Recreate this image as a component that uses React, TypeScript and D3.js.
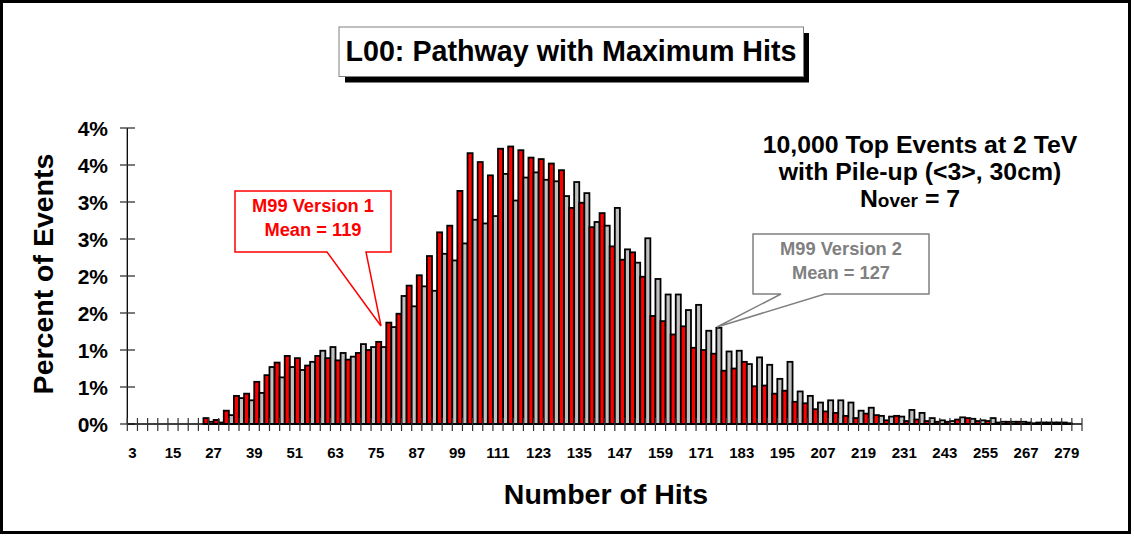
import React from 'react';
import * as d3 from 'd3';

// Number of hits (bin labels, step 3)
const hits = [
  3, 6, 9, 12, 15, 18, 21, 24, 27, 30, 33, 36, 39, 42, 45, 48, 51, 54, 57, 60,
  63, 66, 69, 72, 75, 78, 81, 84, 87, 90, 93, 96, 99, 102, 105, 108, 111, 114, 117, 120,
  123, 126, 129, 132, 135, 138, 141, 144, 147, 150, 153, 156, 159, 162, 165, 168, 171, 174, 177, 180,
  183, 186, 189, 192, 195, 198, 201, 204, 207, 210, 213, 216, 219, 222, 225, 228, 231, 234, 237, 240,
  243, 246, 249, 252, 255, 258, 261, 264, 267, 270, 273, 276, 279, 282,
];

// M99 Version 1 (red), percent of events
const version1 = [
  0, 0, 0, 0, 0, 0, 0, 0.08, 0.055, 0.18, 0.38, 0.41, 0.57, 0.66, 0.83, 0.92, 0.89, 0.79, 0.92, 0.89,
  0.86, 0.87, 0.96, 1.0, 1.11, 1.37, 1.49, 1.87, 2.01, 2.27, 2.59, 2.68, 3.15, 3.66, 3.54, 3.36, 3.72, 3.75, 3.7, 3.6,
  3.58, 3.52, 3.43, 2.92, 2.99, 2.66, 2.85, 2.4, 2.22, 2.32, 1.99, 1.46, 1.39, 1.21, 1.32, 1.03, 1.0, 0.95, 0.72, 0.75,
  0.84, 0.51, 0.52, 0.41, 0.45, 0.3, 0.28, 0.2, 0.17, 0.15, 0.11, 0.08, 0.14, 0.12, 0.05, 0.11, 0.04, 0.06, 0.04, 0.03,
  0.03, 0.06, 0.08, 0.04, 0.04, 0.02, 0.03, 0.03, 0.02, 0.02, 0.02, 0.02, 0.01, 0,
];

// M99 Version 2 (gray), percent of events
const version2 = [
  0, 0, 0, 0, 0, 0, 0, 0, 0.03, 0.02, 0.12, 0.35, 0.32, 0.42, 0.77, 0.63, 0.77, 0.73, 0.84, 0.99,
  1.04, 0.96, 0.91, 1.08, 1.04, 1.04, 1.31, 1.73, 1.59, 1.86, 1.8, 2.3, 2.21, 2.44, 2.76, 2.71, 2.81, 3.38, 3.02, 3.33,
  3.4, 3.3, 3.28, 3.08, 3.27, 3.12, 2.73, 2.68, 2.92, 2.36, 2.18, 2.51, 1.96, 1.75, 1.75, 1.54, 1.61, 1.26, 1.3, 0.98,
  0.99, 0.81, 0.9, 0.8, 0.61, 0.84, 0.44, 0.38, 0.29, 0.32, 0.32, 0.29, 0.18, 0.22, 0.11, 0.1, 0.1, 0.19, 0.15, 0.08,
  0.05, 0.04, 0.09, 0.07, 0.05, 0.08, 0.03, 0.03, 0.03, 0.01, 0.02, 0.02, 0.02, 0,
];

const xTickLabels = [3, 15, 27, 39, 51, 63, 75, 87, 99, 111, 123, 135, 147, 159, 171, 183, 195, 207, 219, 231, 243, 255, 267, 279];
const yTicks = [0, 0.5, 1, 1.5, 2, 2.5, 3, 3.5, 4];

const FONT = "'Liberation Sans', Arial, Helvetica, sans-serif";

export default function App() {
  const W = 1134;
  const H = 537;
  const left = 127.3;
  const right = 1082;
  const base = 424;
  const top = 128;

  const x = d3.scaleBand<number>().domain(hits).range([left, right]).padding(0);
  const inner = d3.scaleBand<string>().domain(['v2', 'v1']).range([0, x.bandwidth()]).padding(0);
  const y = d3.scaleLinear().domain([0, 4]).range([base, top]);

  const bars: React.ReactNode[] = [];
  hits.forEach((h, i) => {
    const x0 = x(h)!;
    const series: [string, number, string][] = [
      ['v2', version2[i], '#C0C0C0'],
      ['v1', version1[i], '#FF0000'],
    ];
    series.forEach(([key, v, fill]) => {
      if (v <= 0) return;
      const yy = y(v);
      bars.push(
        <rect
          key={`${key}-${h}`}
          x={x0 + inner(key)!}
          y={yy}
          width={inner.bandwidth()}
          height={base - yy}
          fill={fill}
          stroke="#000"
          strokeWidth={1.8}
        />
      );
    });
  });

  const boundaries = hits.map((h) => x(h)!).concat([right]);

  return (
    <svg
      width={W}
      height={H}
      viewBox={`0 0 ${W} ${H}`}
      style={{ position: 'absolute', left: 0, top: 0, display: 'block', background: '#fff' }}
      fontFamily={FONT}
    >
      <rect x={0} y={0} width={W} height={H} fill="#fff" />
      <rect x={1.5} y={1.5} width={1128} height={531} fill="none" stroke="#000" strokeWidth={3} />

      {/* Title box */}
      <rect x={345} y={33} width={464} height={49.5} fill="#000" />
      <rect x={339} y={27} width={464.5} height={49.5} fill="#fff" stroke="#808080" strokeWidth={1} />
      <text x={571} y={61} textAnchor="middle" fontSize={28.7} fontWeight="bold" fill="#000">
        L00: Pathway with Maximum Hits
      </text>

      {/* Bars */}
      <g>{bars}</g>

      {/* Y axis */}
      <line x1={left} x2={left} y1={top} y2={base} stroke="#000" strokeWidth={1.3} />
      {yTicks.map((t) => (
        <g key={`yt-${t}`}>
          <line x1={120} x2={135} y1={y(t)} y2={y(t)} stroke="#333" strokeWidth={1.3} />
          <text x={108} y={y(t)} dy="0.36em" textAnchor="end" fontSize={21} fontWeight="bold" fill="#000">
            {Math.round(t)}%
          </text>
        </g>
      ))}

      {/* X axis */}
      <line x1={left} x2={right} y1={base} y2={base} stroke="#000" strokeWidth={1.3} />
      {boundaries.map((bx, i) => (
        <line key={`xt-${i}`} x1={bx} x2={bx} y1={418} y2={431} stroke="#333" strokeWidth={1.2} />
      ))}
      {xTickLabels.map((l) => (
        <text key={`xl-${l}`} x={x(l)! + x.bandwidth() / 2} y={458} textAnchor="middle" fontSize={15} fontWeight="bold" fill="#000">
          {l}
        </text>
      ))}

      {/* Axis titles */}
      <text x={606} y={504} textAnchor="middle" fontSize={28.5} fontWeight="bold" fill="#000">
        Number of Hits
      </text>
      <text
        transform="translate(53,274) rotate(-90)"
        textAnchor="middle"
        fontSize={28.5}
        fontWeight="bold"
        fill="#000"
      >
        Percent of Events
      </text>

      {/* Annotation */}
      <g fontWeight="bold" fill="#000" textAnchor="middle">
        <text x={920} y={153} fontSize={24.8}>10,000 Top Events at 2 TeV</text>
        <text x={920} y={180} fontSize={24.8}>with Pile-up (&lt;3&gt;, 30cm)</text>
        <text x={910} y={207} fontSize={24.8}>
          <tspan>N</tspan>
          <tspan fontSize={19}>over</tspan>
          <tspan> = 7</tspan>
        </text>
      </g>

      {/* Callout Version 1 */}
      <path
        d="M235,191 H391 V252 H366 L381,326 L327,252 H235 Z"
        fill="#fff"
        stroke="#FF0000"
        strokeWidth={1.5}
      />
      <text x={313} y={212} textAnchor="middle" fontSize={18.3} fontWeight="bold" fill="#FF0000">M99 Version 1</text>
      <text x={313} y={236} textAnchor="middle" fontSize={18.3} fontWeight="bold" fill="#FF0000">Mean = 119</text>

      {/* Callout Version 2 */}
      <path
        d="M753,234 H929 V294 H825 L717,327 L781,294 H753 Z"
        fill="#fff"
        stroke="#808080"
        strokeWidth={1.5}
      />
      <text x={841} y={255} textAnchor="middle" fontSize={18.3} fontWeight="bold" fill="#808080">M99 Version 2</text>
      <text x={841} y={279} textAnchor="middle" fontSize={18.3} fontWeight="bold" fill="#808080">Mean = 127</text>
    </svg>
  );
}
